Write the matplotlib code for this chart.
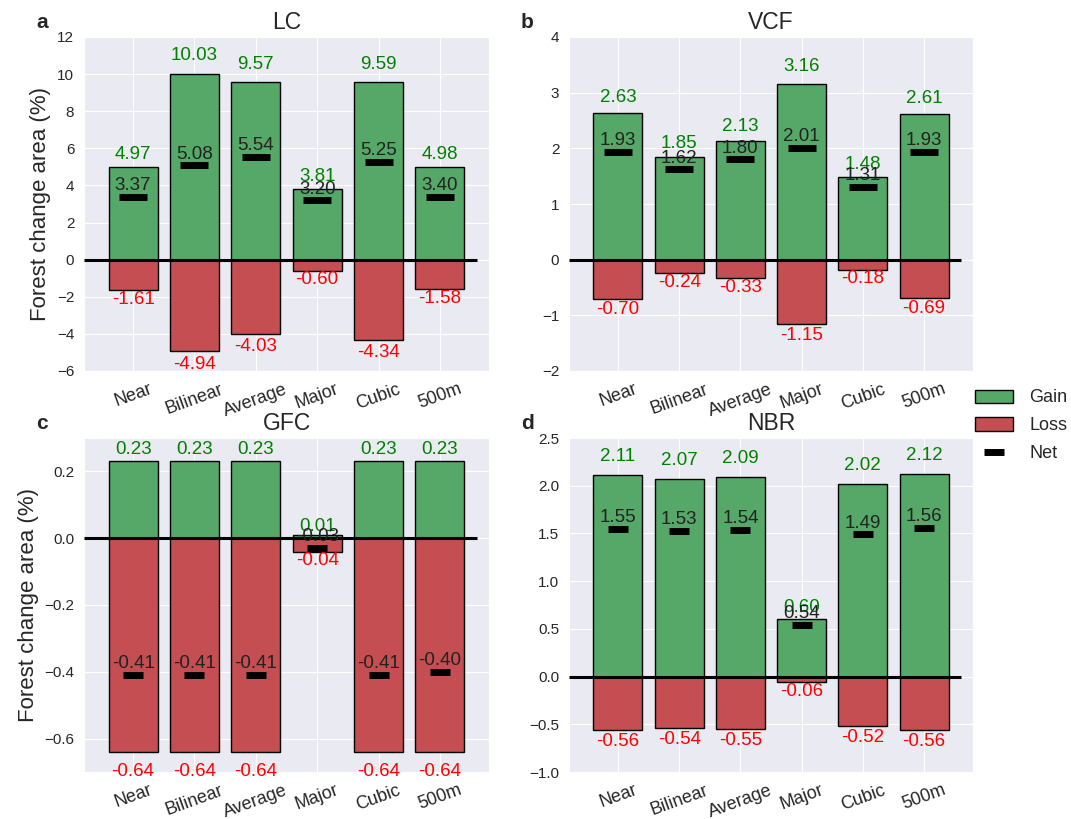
import numpy as np
import matplotlib
matplotlib.use('Agg')
import matplotlib.pyplot as plt
import seaborn as sns
from matplotlib.patches import Patch
from matplotlib.lines import Line2D

sns.set_style('darkgrid')
plt.rcParams['font.family'] = ['Liberation Sans', 'DejaVu Sans']

methods = ['Near', 'Bilinear', 'Average', 'Major', 'Cubic', '500m']

lc_gain = [4.97, 10.03, 9.57, 3.81, 9.59, 4.98]
lc_loss = [-1.61, -4.94, -4.03, -0.60, -4.34, -1.58]
lc_net = [3.37, 5.08, 5.54, 3.20, 5.25, 3.40]

vcf_gain = [2.63, 1.85, 2.13, 3.16, 1.48, 2.61]
vcf_loss = [-0.70, -0.24, -0.33, -1.15, -0.18, -0.69]
vcf_net = [1.93, 1.62, 1.80, 2.01, 1.31, 1.93]

gfc_gain = [0.23, 0.23, 0.23, 0.01, 0.23, 0.23]
gfc_loss = [-0.64, -0.64, -0.64, -0.04, -0.64, -0.64]
gfc_net = [-0.41, -0.41, -0.41, -0.03, -0.41, -0.40]

nbr_gain = [2.11, 2.07, 2.09, 0.60, 2.02, 2.12]
nbr_loss = [-0.56, -0.54, -0.55, -0.06, -0.52, -0.56]
nbr_net = [1.55, 1.53, 1.54, 0.54, 1.49, 1.56]

GREEN = '#55A868'
RED = '#C44E52'

W, H = 1071, 819
fig = plt.figure(figsize=(W / 100, H / 100), dpi=100)

# axes boxes in pixels: left, top, right, bottom
boxes = {
    'a': (84, 37, 489, 371),
    'b': (569, 37, 973, 371),
    'c': (84, 438, 489, 772),
    'd': (569, 438, 973, 772),
}


def make_ax(box):
    l, t, r, b = box
    return fig.add_axes([l / W, 1 - b / H, (r - l) / W, (b - t) / H])


def panel(key, title, gain, loss, net, ylim, yticks, ytl, ms, ylabel=False):
    ax = make_ax(boxes[key])
    x = np.arange(len(methods))
    ax.bar(x, gain, 0.8, color=GREEN, edgecolor='k', lw=1, zorder=2)
    ax.bar(x, loss, 0.8, color=RED, edgecolor='k', lw=1, zorder=2)
    ax.hlines(0, -0.8, 5.6, color='k', lw=2.2, zorder=3)
    ax.plot(x, net, ls='none', marker='_', ms=ms, mew=5, color='k', zorder=4)
    for i in range(len(methods)):
        ax.text(x[i], gain[i] * 1.05, '%.2f' % gain[i], color='green',
                ha='center', va='bottom', fontsize=13.5, zorder=5)
        ax.text(x[i], loss[i] * 1.05, '%.2f' % loss[i], color='red',
                ha='center', va='top', fontsize=13.5, zorder=5)
        ax.annotate('%.2f' % net[i], (x[i], net[i]), xytext=(0, 2),
                    textcoords='offset points', color='#222222',
                    ha='center', va='bottom', fontsize=13.5, zorder=5)
    ax.set_xlim(-0.8, 5.8)
    ax.set_ylim(*ylim)
    ax.set_xticks(x)
    ax.set_xticklabels(methods, rotation=20, fontsize=13)
    ax.set_yticks(yticks)
    ax.set_yticklabels(ytl, fontsize=11)
    ax.set_title(title, fontsize=16.5, pad=6)
    if ylabel:
        ax.set_ylabel('Forest change area (%)', fontsize=16)
    l, t, r, b = boxes[key]
    fig.text((l - 48) / W, 1 - 28 / H if t < 100 else 1 - 429 / H, key,
             fontsize=15, fontweight='bold', ha='left', va='baseline')
    return ax


panel('a', 'LC', lc_gain, lc_loss, lc_net, (-6, 12),
      [-6, -4, -2, 0, 2, 4, 6, 8, 10, 12],
      ['\u22126', '\u22124', '\u22122', '0', '2', '4', '6', '8', '10', '12'],
      20, ylabel=True)
panel('b', 'VCF', vcf_gain, vcf_loss, vcf_net, (-2, 4),
      [-2, -1, 0, 1, 2, 3, 4],
      ['\u22122', '\u22121', '0', '1', '2', '3', '4'], 20)
panel('c', 'GFC', gfc_gain, gfc_loss, gfc_net, (-0.7, 0.3),
      [-0.6, -0.4, -0.2, 0.0, 0.2],
      ['\u22120.6', '\u22120.4', '\u22120.2', '0.0', '0.2'], 14, ylabel=True)
panel('d', 'NBR', nbr_gain, nbr_loss, nbr_net, (-1.0, 2.5),
      [-1.0, -0.5, 0.0, 0.5, 1.0, 1.5, 2.0, 2.5],
      ['\u22121.0', '\u22120.5', '0.0', '0.5', '1.0', '1.5', '2.0', '2.5'], 14)

handles = [
    Patch(facecolor=GREEN, edgecolor='k', label='Gain'),
    Patch(facecolor=RED, edgecolor='k', label='Loss'),
    Line2D([0], [0], ls='none', marker='_', ms=14, mew=5, color='k', label='Net'),
]
fig.legend(handles=handles, loc='upper left', bbox_to_anchor=(970 / W, 1 - 384 / H),
           frameon=False, fontsize=13, handlelength=2.1, handleheight=0.75,
           labelspacing=0.6, handletextpad=0.9, borderpad=0.3, borderaxespad=0)

fig.savefig('out.png', dpi=100, facecolor='white')
